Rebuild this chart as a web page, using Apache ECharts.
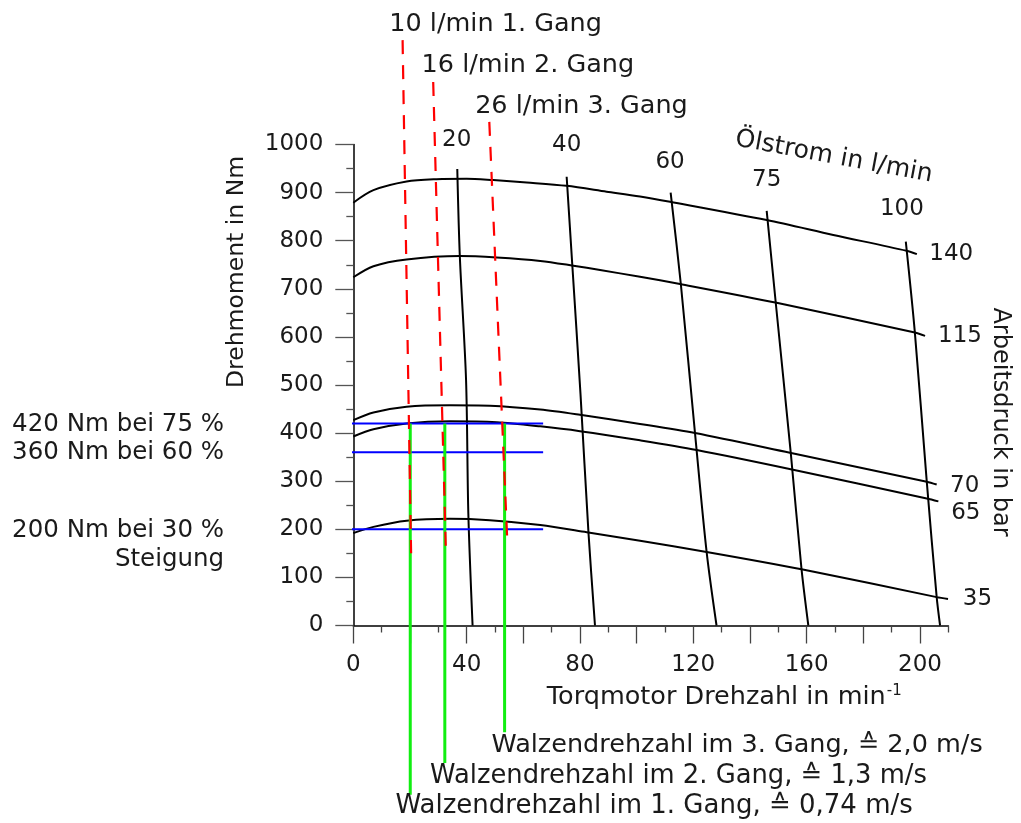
<!DOCTYPE html>
<html><head><meta charset="utf-8">
<script src="https://cdn.jsdelivr.net/npm/echarts@6/dist/echarts.min.js"></script>
<style>html,body{margin:0;padding:0;background:#fff}#c{width:1021px;height:823px}</style>
</head><body><div id="c"></div>
<script>
// ---------- data ----------
const xTickLabels = [0, 40, 80, 120, 160, 200];
const xMajorTicks = [0, 20, 40, 60, 80, 100, 120, 140, 160, 180, 200];
const xMinorTicks = [10, 30, 50, 70, 90, 110, 130, 150, 170, 190, 210];
const yTickLabels = [0, 100, 200, 300, 400, 500, 600, 700, 800, 900, 1000];

// constant pressure curves (torque vs speed), labels in bar
const pressureLevels = ['140', '115', '70', '65', '35'];
const p140 = [[0,879],[7.1,905],[18.8,923],[29.4,928],[40,929],[49.4,926],[61.2,921],[75.3,914],[89.4,902],[101.2,892],[111.8,881],[145.9,843],[169.4,812],[195.3,779],[198.9,772]];
const p115 = [[0,724],[7.1,747],[18.8,761],[37.6,768],[50.6,765],[66,758],[77.7,748],[87.1,739],[101.2,725],[115.3,710],[149.4,671],[198.2,609],[201.8,602]];
const p70  = [[0,427],[7.1,443],[18.8,455],[34.1,458],[48.2,457],[66,449],[80,438],[101.2,419],[120.6,400],[154.1,359],[202.4,299],[205.9,293]];
const p65  = [[0,393],[7.1,408],[18.8,420],[34.1,424.5],[50.6,422.5],[66,414],[80,404],[101.2,385],[121.2,365],[154.4,325],[202.4,264],[206.5,258]];
const p35  = [[0,192],[7.1,205],[18.8,218],[34.1,222],[48.2,219],[66,209],[82.4,194],[101.2,176],[124.7,153],[158.2,117],[205.9,59],[209.9,55]];

// constant oil-flow curves, labels in l/min
const flowLevels = ['20', '40', '60', '75', '100'];
const f20  = [[42.1,0],[40.6,233],[39.8,510],[37.6,767],[36.7,949]];
const f40  = [[85.3,0],[83,193],[80.2,480],[77.3,749],[75.3,933]];
const f60  = [[128.2,0],[124.7,153],[120.6,400],[115.6,710],[112,900]];
const f75  = [[160.6,0],[158.2,117],[154.4,359],[149.1,671],[145.9,862]];
const f100 = [[207.1,0],[205.9,59],[202.4,299],[198.2,609],[195,798]];

// gear flow lines (red dashed)
const gearFlowLabels = ['10 l/min 1. Gang', '16 l/min 2. Gang', '26 l/min 3. Gang'];
const gear1Flow = [[17.4,1217],[20.4,150]];
const gear2Flow = [[28.2,1130],[32.7,150]];
const gear3Flow = [[48,1047],[54.4,169]];

// roller speed lines (green)
const gearSpeedLabels = ['Walzendrehzahl im 1. Gang, \u2259 0,74 m/s', 'Walzendrehzahl im 2. Gang, \u2259 1,3 m/s', 'Walzendrehzahl im 3. Gang, \u2259 2,0 m/s'];
const gear1Speed = [[20.1,420],[20.1,-352]];
const gear2Speed = [[32.3,420],[32.3,-286]];
const gear3Speed = [[53.4,420],[53.4,-222]];

// slope torque lines (blue)
const slopeLabels = ['420 Nm bei 75 %', '360 Nm bei 60 %', '200 Nm bei 30 %'];
const slopeTorque = [420, 360, 200];
const slopeSpan = [-40, 67];

// ---------- chart ----------
const FONT = 'DejaVu Sans';
const TXT = '#1a1a1a';
const chart = echarts.init(document.getElementById('c'), null, {renderer: 'canvas'});

function curve(data) {
  return {type: 'line', data, symbol: 'none', smooth: 0.3, clip: false, silent: true,
    lineStyle: {color: '#000', width: 2}, z: 2};
}
const series = [];
[p140, p115, p70, p65, p35].forEach(d => series.push(curve(d)));
[f20, f40, f60, f75, f100].forEach(d => series.push(curve(d)));
slopeTorque.forEach(v => series.push({type: 'line', data: [[slopeSpan[0], v], [slopeSpan[1], v]], symbol: 'none', clip: false, silent: true,
  lineStyle: {color: '#0000ff', width: 2}, z: 3}));
[gear1Speed, gear2Speed, gear3Speed].forEach(d => series.push({type: 'line', data: d, symbol: 'none', clip: false, silent: true,
  lineStyle: {color: '#11ee11', width: 3}, z: 4}));
[gear1Flow, gear2Flow, gear3Flow].forEach(d => series.push({type: 'line', data: d, symbol: 'none', clip: false, silent: true,
  lineStyle: {color: '#ff0000', width: 2.2, type: [14, 11]}, z: 5}));

// annotation texts anchored in data coordinates
function note(x, y, text, opt) {
  return {value: [x, y], label: Object.assign({show: true, position: 'inside', formatter: text, fontFamily: FONT, fontSize: 24,
    color: TXT, textBorderWidth: 0, textBorderColor: 'transparent', opacity: 1,
    align: 'center', verticalAlign: 'middle'}, opt || {})};
}
const notes = [
  note(-41.1, 735, 'Drehmoment in Nm', {rotate: 90, fontSize: 23.5}),
  note(68.3, -148.6, 'Torqmotor Drehzahl in min{s|-1}', {align: 'left', fontSize: 25.5,
    rich: {s: {fontFamily: FONT, fontSize: 15, color: TXT, verticalAlign: 'top', padding: [0, 0, 12, 1]}}}),
  note(169.6, 974, '\u00D6lstrom in l/min', {rotate: -10.5, fontSize: 25}),
  note(228.2, 423, 'Arbeitsdruck in bar', {rotate: -90}),
  note(203.3, 772, pressureLevels[0], {align: 'left', fontSize: 23}),
  note(206.4, 602, pressureLevels[1], {align: 'left', fontSize: 23}),
  note(210.6, 290, pressureLevels[2], {align: 'left', fontSize: 23}),
  note(211, 234.5, pressureLevels[3], {align: 'left', fontSize: 23}),
  note(215.1, 54.5, pressureLevels[4], {align: 'left', fontSize: 23}),
  note(36.5, 1009, flowLevels[0], {fontSize: 23}),
  note(75.3, 999, flowLevels[1], {fontSize: 23}),
  note(111.8, 964, flowLevels[2], {fontSize: 23}),
  note(145.9, 926, flowLevels[3], {fontSize: 23}),
  note(193.6, 865, flowLevels[4], {fontSize: 23}),
  note(12.7, 1250.5, gearFlowLabels[0], {align: 'left', fontSize: 25.5}),
  note(24.1, 1164, gearFlowLabels[1], {align: 'left', fontSize: 25.5}),
  note(43, 1080, gearFlowLabels[2], {align: 'left', fontSize: 25.5}),
  note(14.9, -375, gearSpeedLabels[0], {align: 'left', fontSize: 26}),
  note(27.1, -313, gearSpeedLabels[1], {align: 'left', fontSize: 25.8}),
  note(48.8, -249.5, gearSpeedLabels[2], {align: 'left', fontSize: 25.5}),
  note(-45.6, 418, slopeLabels[0], {align: 'right', fontSize: 24.5}),
  note(-45.6, 359, slopeLabels[1], {align: 'right', fontSize: 24.5}),
  note(-45.6, 197, slopeLabels[2], {align: 'right', fontSize: 24.5}),
  note(-45.6, 136, 'Steigung', {align: 'right', fontSize: 24.5})
];
series.push({type: 'scatter', data: notes, symbolSize: 0, clip: false, silent: true, z: 10, itemStyle: {color: '#000', opacity: 1}});

const axisFont = {fontFamily: FONT, fontSize: 23, color: TXT, formatter: v => String(v)};
chart.setOption({
  animation: false,
  backgroundColor: '#fff',
  grid: {left: 353.3, top: 144.5, right: 72.7, bottom: 197.5, containLabel: false},
  xAxis: [
    {type: 'value', position: 'bottom', min: 0, max: 210, interval: 20,
      axisLine: {show: true, onZero: false, lineStyle: {color: '#000', width: 1.5}},
      axisTick: {show: true, length: 18, customValues: xMajorTicks, lineStyle: {color: '#444', width: 1.3}},
      axisLabel: Object.assign({show: true, margin: 28, customValues: xTickLabels}, axisFont),
      splitLine: {show: false}},
    {type: 'value', position: 'bottom', min: 0, max: 210, interval: 10,
      axisLine: {show: false, onZero: false},
      axisTick: {show: true, length: 7, customValues: xMinorTicks, lineStyle: {color: '#444', width: 1.3}},
      axisLabel: {show: false}, splitLine: {show: false}}
  ],
  yAxis: {type: 'value', min: 0, max: 1000, interval: 100,
    axisLine: {show: true, onZero: false, lineStyle: {color: '#000', width: 1.5}},
    axisTick: {show: true, length: 18, customValues: yTickLabels, lineStyle: {color: '#555', width: 1.3}},
    minorTick: {show: true, splitNumber: 2, length: 7, lineStyle: {color: '#555', width: 1.3}},
    axisLabel: Object.assign({show: true, margin: 30, customValues: yTickLabels}, axisFont),
    splitLine: {show: false}, minorSplitLine: {show: false}},
  series: series
});
</script></body></html>
